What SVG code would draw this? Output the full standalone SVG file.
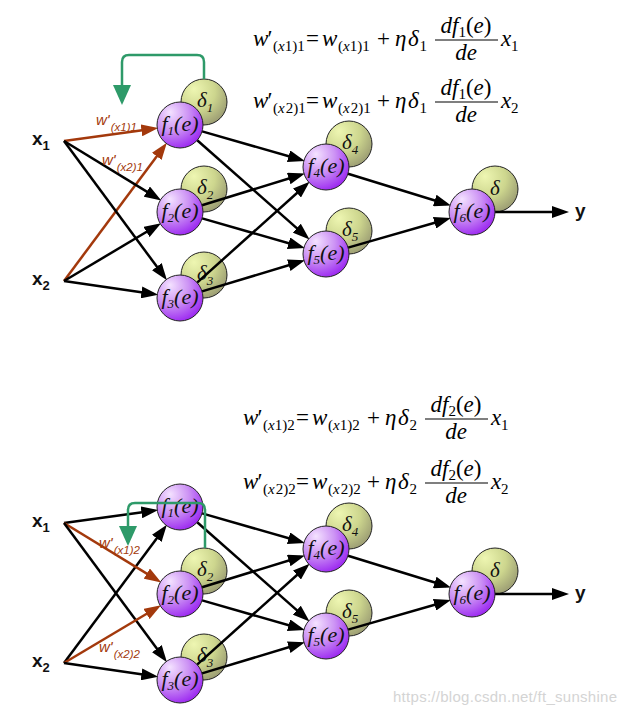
<svg xmlns="http://www.w3.org/2000/svg" width="629" height="715" viewBox="0 0 629 715">
<style>
.mi{font-family:"Liberation Serif","Times New Roman",serif;font-style:italic;font-size:23px;fill:#000}
.mr{font-family:"Liberation Serif","Times New Roman",serif;font-size:23px;fill:#000}
.s{font-family:"Liberation Serif","Times New Roman",serif;font-size:15px;fill:#000}
.it{font-style:italic}
.up{font-style:normal}
.bar{stroke:#000;stroke-width:1.1}
.fc{fill:url(#gf);stroke:#222;stroke-width:1}
.dc{fill:url(#gd);stroke:#222;stroke-width:1}
.fl{font-family:"Liberation Serif","Times New Roman",serif;font-style:italic;font-size:22px;fill:#111}
.fs{font-size:13px}
.dl{font-family:"Liberation Serif","Times New Roman",serif;font-style:italic;font-size:21px;fill:#111}
.io{font-family:"Liberation Sans",Arial,sans-serif;font-weight:bold;font-size:19px;fill:#111}
.ios{font-size:13px}
.rl{font-family:"Liberation Sans",Arial,sans-serif;font-style:italic;font-size:15px;fill:#a3390c}
.rls{font-size:11.5px}
.k{stroke:#000;stroke-width:2.5;fill:none;marker-end:url(#ab)}
.r{stroke:#a3390c;stroke-width:2.5;fill:none;marker-end:url(#ar)}
.g{stroke:#2e9a69;stroke-width:2.5;fill:none;marker-end:url(#ag)}
</style>
<defs>
<radialGradient id="gf" cx="0.35" cy="0.3" r="0.85" fx="0.28" fy="0.22">
<stop offset="0" stop-color="#f4e2ff"/>
<stop offset="0.45" stop-color="#cc92f4"/>
<stop offset="1" stop-color="#8f0cf0"/>
</radialGradient>
<radialGradient id="gd" cx="0.35" cy="0.3" r="0.85" fx="0.28" fy="0.22">
<stop offset="0" stop-color="#eef6b2"/>
<stop offset="0.5" stop-color="#cdd68e"/>
<stop offset="1" stop-color="#8e8d6c"/>
</radialGradient>
<marker id="ab" markerUnits="userSpaceOnUse" markerWidth="17" markerHeight="12" refX="12" refY="6" orient="auto"><path d="M0,0 L17,6 L0,12 z" fill="#000"/></marker>
<marker id="ar" markerUnits="userSpaceOnUse" markerWidth="17" markerHeight="12" refX="12" refY="6" orient="auto"><path d="M0,0 L17,6 L0,12 z" fill="#a3390c"/></marker>
<marker id="ag" markerUnits="userSpaceOnUse" markerWidth="20" markerHeight="18" refX="10" refY="9" orient="auto"><path d="M0,0 L20,9 L0,18 z" fill="#2e9a69"/></marker>
</defs>
<rect width="629" height="715" fill="#fff"/>

<!-- formulas -->
<g id="formula-top-1" transform="translate(253,46)">
<text class="mi" x="0" y="0">w</text><text class="mr" x="14.5" y="0">′</text>
<text class="s" x="20" y="5">(<tspan class="it">x</tspan>1)1</text>
<text class="mr" x="53" y="0">=</text>
<text class="mi" x="69" y="0">w</text>
<text class="s" x="85" y="5">(<tspan class="it">x</tspan>1)1</text>
<text class="mr" x="124" y="0">+</text>
<text class="mi" x="142" y="0">η</text><text class="mi" x="155" y="0">δ</text><text class="s" x="166.5" y="5">1</text>
<line class="bar" x1="182" y1="-6" x2="245" y2="-6"/>
<text class="mi" x="213" y="-13" text-anchor="middle">df<tspan class="up" font-size="15" dy="4">1</tspan><tspan class="up" dy="-4">(</tspan>e<tspan class="up">)</tspan></text>
<text class="mi" x="213" y="14" text-anchor="middle">de</text>
<text class="mi" x="248" y="0">x</text><text class="s" x="258" y="5">1</text>
</g>
<g id="formula-top-2" transform="translate(253,108)">
<text class="mi" x="0" y="0">w</text><text class="mr" x="14.5" y="0">′</text>
<text class="s" x="20" y="5">(<tspan class="it">x</tspan><tspan dx="1">2</tspan>)1</text>
<text class="mr" x="53" y="0">=</text>
<text class="mi" x="69" y="0">w</text>
<text class="s" x="85" y="5">(<tspan class="it">x</tspan><tspan dx="1">2</tspan>)1</text>
<text class="mr" x="124" y="0">+</text>
<text class="mi" x="142" y="0">η</text><text class="mi" x="155" y="0">δ</text><text class="s" x="166.5" y="5">1</text>
<line class="bar" x1="182" y1="-6" x2="245" y2="-6"/>
<text class="mi" x="213" y="-13" text-anchor="middle">df<tspan class="up" font-size="15" dy="4">1</tspan><tspan class="up" dy="-4">(</tspan>e<tspan class="up">)</tspan></text>
<text class="mi" x="213" y="14" text-anchor="middle">de</text>
<text class="mi" x="248" y="0">x</text><text class="s" x="258" y="5">2</text>
</g>
<g id="formula-bot-1" transform="translate(243,425)">
<text class="mi" x="0" y="0">w</text><text class="mr" x="14.5" y="0">′</text>
<text class="s" x="20" y="5">(<tspan class="it">x</tspan>1)2</text>
<text class="mr" x="53" y="0">=</text>
<text class="mi" x="69" y="0">w</text>
<text class="s" x="85" y="5">(<tspan class="it">x</tspan>1)2</text>
<text class="mr" x="124" y="0">+</text>
<text class="mi" x="142" y="0">η</text><text class="mi" x="155" y="0">δ</text><text class="s" x="166.5" y="5">2</text>
<line class="bar" x1="182" y1="-6" x2="245" y2="-6"/>
<text class="mi" x="213" y="-13" text-anchor="middle">df<tspan class="up" font-size="15" dy="4">2</tspan><tspan class="up" dy="-4">(</tspan>e<tspan class="up">)</tspan></text>
<text class="mi" x="213" y="14" text-anchor="middle">de</text>
<text class="mi" x="248" y="0">x</text><text class="s" x="258" y="5">1</text>
</g>
<g id="formula-bot-2" transform="translate(243,489)">
<text class="mi" x="0" y="0">w</text><text class="mr" x="14.5" y="0">′</text>
<text class="s" x="20" y="5">(<tspan class="it">x</tspan><tspan dx="1">2</tspan>)2</text>
<text class="mr" x="53" y="0">=</text>
<text class="mi" x="69" y="0">w</text>
<text class="s" x="85" y="5">(<tspan class="it">x</tspan><tspan dx="1">2</tspan>)2</text>
<text class="mr" x="124" y="0">+</text>
<text class="mi" x="142" y="0">η</text><text class="mi" x="155" y="0">δ</text><text class="s" x="166.5" y="5">2</text>
<line class="bar" x1="182" y1="-6" x2="245" y2="-6"/>
<text class="mi" x="213" y="-13" text-anchor="middle">df<tspan class="up" font-size="15" dy="4">2</tspan><tspan class="up" dy="-4">(</tspan>e<tspan class="up">)</tspan></text>
<text class="mi" x="213" y="14" text-anchor="middle">de</text>
<text class="mi" x="248" y="0">x</text><text class="s" x="258" y="5">2</text>
</g>

<!-- delta circles (behind connectors) -->
<g id="deltas">
<g id="delta1-top"><circle class="dc" cx="204" cy="102" r="23"/><text class="dl" x="197" y="107">δ<tspan class="fs" dy="5">1</tspan></text></g>
<g id="delta2-top"><circle class="dc" cx="204" cy="189" r="23"/><text class="dl" x="197" y="194">δ<tspan class="fs" dy="5">2</tspan></text></g>
<g id="delta3-top"><circle class="dc" cx="204" cy="275" r="23"/><text class="dl" x="197" y="280">δ<tspan class="fs" dy="5">3</tspan></text></g>
<g id="delta4-top"><circle class="dc" cx="349" cy="144" r="23"/><text class="dl" x="342" y="149">δ<tspan class="fs" dy="5">4</tspan></text></g>
<g id="delta5-top"><circle class="dc" cx="349" cy="231" r="23"/><text class="dl" x="342" y="236">δ<tspan class="fs" dy="5">5</tspan></text></g>
<g id="delta6-top"><circle class="dc" cx="495" cy="189" r="23"/><text class="dl" x="495" y="195" text-anchor="middle">δ</text></g>
<g id="delta2-bot"><circle class="dc" cx="204" cy="571" r="23"/><text class="dl" x="197" y="576">δ<tspan class="fs" dy="5">2</tspan></text></g>
<g id="delta3-bot"><circle class="dc" cx="204" cy="657" r="23"/><text class="dl" x="197" y="662">δ<tspan class="fs" dy="5">3</tspan></text></g>
<g id="delta4-bot"><circle class="dc" cx="349" cy="526" r="23"/><text class="dl" x="342" y="531">δ<tspan class="fs" dy="5">4</tspan></text></g>
<g id="delta5-bot"><circle class="dc" cx="349" cy="613" r="23"/><text class="dl" x="342" y="618">δ<tspan class="fs" dy="5">5</tspan></text></g>
<g id="delta6-bot"><circle class="dc" cx="495" cy="571" r="23"/><text class="dl" x="495" y="577" text-anchor="middle">δ</text></g>
</g>

<!-- connectors -->
<g id="connectors">
<line class="r" x1="64" y1="141" x2="153.3" y2="128.7"/>
<line class="r" x1="64" y1="281" x2="163.9" y2="146.7"/>
<line class="k" x1="64" y1="141" x2="157" y2="197.9"/>
<line class="k" x1="64" y1="141" x2="164" y2="276.3"/>
<line class="k" x1="64" y1="281" x2="156.8" y2="225.8"/>
<line class="k" x1="64" y1="281" x2="153.3" y2="294.1"/>
<line class="k" x1="202.1" y1="131.4" x2="300.1" y2="159.5"/>
<line class="k" x1="197.2" y1="140.2" x2="305.8" y2="236.1"/>
<line class="k" x1="202" y1="205.2" x2="300.2" y2="175"/>
<line class="k" x1="202.1" y1="218.4" x2="300.1" y2="246.5"/>
<line class="k" x1="197.1" y1="282.6" x2="305.9" y2="185"/>
<line class="k" x1="202" y1="291.4" x2="300.2" y2="261.8"/>
<line class="k" x1="348" y1="173.8" x2="446.2" y2="204"/>
<line class="k" x1="348.1" y1="247.6" x2="446.1" y2="219.5"/>
<line class="k" x1="495" y1="212" x2="564" y2="212"/>

<line class="k" x1="64" y1="523" x2="153.3" y2="510.7"/>
<line class="k" x1="64" y1="663" x2="163.9" y2="528.7"/>
<line class="r" x1="64" y1="523" x2="157" y2="579.9"/>
<line class="k" x1="64" y1="523" x2="164" y2="658.3"/>
<line class="r" x1="64" y1="663" x2="156.8" y2="607.8"/>
<line class="k" x1="64" y1="663" x2="153.3" y2="676.1"/>
<line class="k" x1="202.1" y1="513.4" x2="300.1" y2="541.5"/>
<line class="k" x1="197.2" y1="522.2" x2="305.8" y2="618.1"/>
<line class="k" x1="202" y1="587.2" x2="300.2" y2="557"/>
<line class="k" x1="202.1" y1="600.4" x2="300.1" y2="628.5"/>
<line class="k" x1="197.1" y1="664.6" x2="305.9" y2="567"/>
<line class="k" x1="202" y1="673.4" x2="300.2" y2="643.8"/>
<line class="k" x1="348" y1="555.8" x2="446.2" y2="586"/>
<line class="k" x1="348.1" y1="629.6" x2="446.1" y2="601.5"/>
<line class="k" x1="495" y1="594" x2="564" y2="594"/>
</g>

<!-- input/output labels -->
<g id="x1-top"><text class="io" x="32" y="145">x<tspan class="ios" dy="5">1</tspan></text></g>
<g id="x2-top"><text class="io" x="32" y="285">x<tspan class="ios" dy="5">2</tspan></text></g>
<g id="y-top"><text class="io" x="575" y="217">y</text></g>
<g id="x1-bot"><text class="io" x="32" y="527">x<tspan class="ios" dy="5">1</tspan></text></g>
<g id="x2-bot"><text class="io" x="32" y="667">x<tspan class="ios" dy="5">2</tspan></text></g>
<g id="y-bot"><text class="io" x="575" y="599">y</text></g>

<!-- weight labels -->
<g id="wlabels">
<text class="rl" x="96" y="125">w'<tspan class="rls" dx="1" dy="6">(x1)1</tspan></text>
<text class="rl" x="102" y="165">w'<tspan class="rls" dx="1" dy="6">(x2)1</tspan></text>
<text class="rl" x="99" y="548">w'<tspan class="rls" dx="1" dy="6">(x1)2</tspan></text>
<text class="rl" x="99" y="652">w'<tspan class="rls" dx="1" dy="6">(x2)2</tspan></text>
</g>

<!-- neuron nodes -->
<g id="f1-top"><circle class="fc" cx="180" cy="125" r="23"/><text class="fl" x="180" y="131" text-anchor="middle">f<tspan class="fs" dy="4">1</tspan><tspan dy="-4">(e)</tspan></text></g>
<g id="f2-top"><circle class="fc" cx="180" cy="212" r="23"/><text class="fl" x="180" y="218" text-anchor="middle">f<tspan class="fs" dy="4">2</tspan><tspan dy="-4">(e)</tspan></text></g>
<g id="f3-top"><circle class="fc" cx="180" cy="298" r="23"/><text class="fl" x="180" y="304" text-anchor="middle">f<tspan class="fs" dy="4">3</tspan><tspan dy="-4">(e)</tspan></text></g>
<g id="f4-top"><circle class="fc" cx="326" cy="167" r="23"/><text class="fl" x="326" y="173" text-anchor="middle">f<tspan class="fs" dy="4">4</tspan><tspan dy="-4">(e)</tspan></text></g>
<g id="f5-top"><circle class="fc" cx="326" cy="254" r="23"/><text class="fl" x="326" y="260" text-anchor="middle">f<tspan class="fs" dy="4">5</tspan><tspan dy="-4">(e)</tspan></text></g>
<g id="f6-top"><circle class="fc" cx="472" cy="212" r="23"/><text class="fl" x="472" y="218" text-anchor="middle">f<tspan class="fs" dy="4">6</tspan><tspan dy="-4">(e)</tspan></text></g>
<g id="f1-bot"><circle class="fc" cx="180" cy="507" r="23"/><text class="fl" x="180" y="513" text-anchor="middle">f<tspan class="fs" dy="4">1</tspan><tspan dy="-4">(e)</tspan></text></g>
<g id="f2-bot"><circle class="fc" cx="180" cy="594" r="23"/><text class="fl" x="180" y="600" text-anchor="middle">f<tspan class="fs" dy="4">2</tspan><tspan dy="-4">(e)</tspan></text></g>
<g id="f3-bot"><circle class="fc" cx="180" cy="680" r="23"/><text class="fl" x="180" y="686" text-anchor="middle">f<tspan class="fs" dy="4">3</tspan><tspan dy="-4">(e)</tspan></text></g>
<g id="f4-bot"><circle class="fc" cx="326" cy="549" r="23"/><text class="fl" x="326" y="555" text-anchor="middle">f<tspan class="fs" dy="4">4</tspan><tspan dy="-4">(e)</tspan></text></g>
<g id="f5-bot"><circle class="fc" cx="326" cy="636" r="23"/><text class="fl" x="326" y="642" text-anchor="middle">f<tspan class="fs" dy="4">5</tspan><tspan dy="-4">(e)</tspan></text></g>
<g id="f6-bot"><circle class="fc" cx="472" cy="594" r="23"/><text class="fl" x="472" y="600" text-anchor="middle">f<tspan class="fs" dy="4">6</tspan><tspan dy="-4">(e)</tspan></text></g>

<!-- feedback arrows -->
<g id="feedback">
<path class="g" d="M204,79 V62 Q204,55 197,55 H129 Q122,55 122,62 V95"/>
<path class="g" d="M205,548 V510 Q205,503 198,503 H135 Q128,503 128,510 V536"/>
</g>

<text x="393" y="702" font-family="Liberation Sans, Arial, sans-serif" font-size="15" fill="#d4d4d4" textLength="224">https://blog.csdn.net/ft_sunshine</text>
</svg>
